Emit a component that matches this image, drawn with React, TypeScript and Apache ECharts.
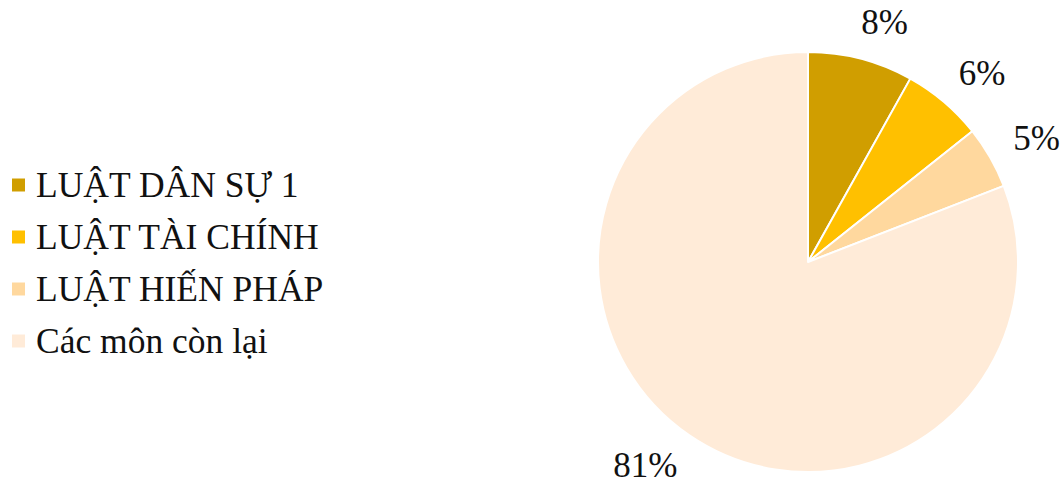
import React, { useEffect, useRef } from "react";
import * as echarts from "echarts";

const categories = ["LUẬT DÂN SỰ 1", "LUẬT TÀI CHÍNH", "LUẬT HIẾN PHÁP", "Các môn còn lại"];
const values = [8.1, 6.2, 4.8, 80.9];
const colors = ["#D09E00", "#FFC000", "#FFD89E", "#FFEBD8"];

const FONT = "Liberation Serif";

export default function App() {
  const ref = useRef<HTMLDivElement>(null);
  useEffect(() => {
    document.body.style.margin = "0";
    const chart = echarts.init(ref.current!, null, { renderer: "svg" });
    chart.setOption({
      animation: false,
      color: colors,
      legend: {
        orient: "vertical",
        left: 5,
        top: 154,
        icon: "rect",
        itemWidth: 15,
        itemHeight: 15,
        itemGap: 0,
        data: categories,
        textStyle: {
          fontFamily: FONT,
          fontSize: 35.5,
          color: "#111",
          lineHeight: 52,
          padding: [0, 0, 0, 5],
        },
      },
      series: [
        {
          type: "pie",
          center: [808, 262],
          radius: 210,
          startAngle: 90,
          clockwise: true,
          avoidLabelOverlap: false,
          itemStyle: { borderColor: "#fff", borderWidth: 2 },
          label: {
            show: true,
            position: "outside",
            fontFamily: FONT,
            fontSize: 35,
            color: "#111",
            distanceToLabelLine: -9,
            formatter: (p: any) => Math.round(p.percent) + "%",
          },
          labelLine: { show: false, length: 37, length2: 0 },
          emphasis: { disabled: true },
          data: categories.map((c, i) => ({ name: c, value: values[i] })),
        },
      ],
    });
    return () => chart.dispose();
  }, []);
  return <div ref={ref} style={{ width: 1061, height: 486 }} />;
}
